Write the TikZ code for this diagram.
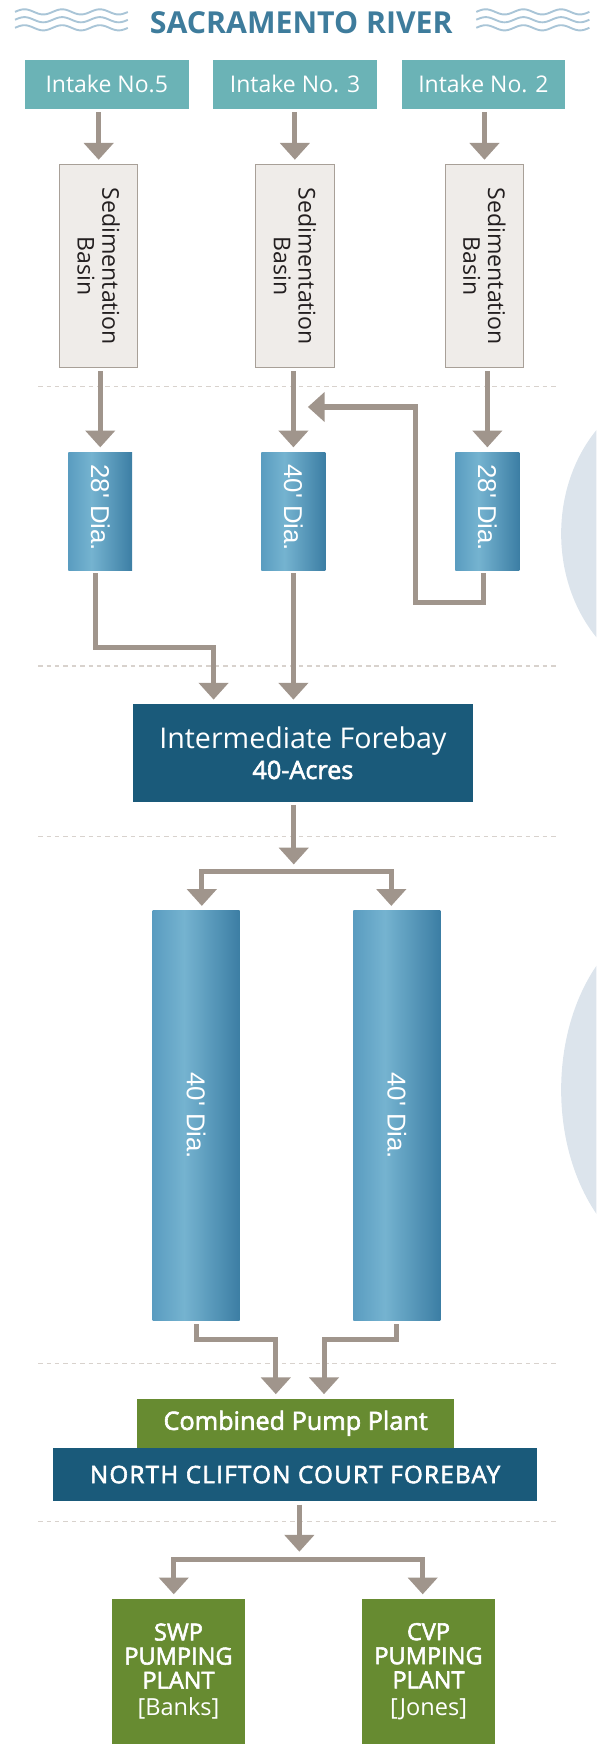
\documentclass[tikz,border=0pt]{standalone}
\usepackage{fontspec}
\setmainfont{Open Sans}
\newfontfamily\arialf{Liberation Sans}
\newfontfamily\medf[FakeBold=2.4]{Open Sans}
\newfontfamily\medspf[FakeBold=2.4,LetterSpace=5.5]{Open Sans}
\usetikzlibrary{arrows.meta}
\definecolor{titleblue}{HTML}{3E7C9C}
\definecolor{wavecol}{HTML}{A9C5D7}
\definecolor{intakecol}{HTML}{6BB3B6}
\definecolor{arrowgray}{HTML}{A0958C}
\definecolor{basinfill}{HTML}{EFECE9}
\definecolor{basinedge}{HTML}{A8A098}
\definecolor{dashcol}{HTML}{D8D2CD}
\definecolor{pipeL}{HTML}{5A9CC0}
\definecolor{pipeM}{HTML}{75B3D0}
\definecolor{pipeR}{HTML}{3C7EA4}
\definecolor{forebaycol}{HTML}{1A5A7A}
\definecolor{greencol}{HTML}{678B31}
\definecolor{ellcol}{HTML}{DCE4EC}
\definecolor{textdark}{HTML}{231F20}
\pgfdeclarehorizontalshading{pipeshade}{100bp}{color(0bp)=(pipeL); color(25bp)=(pipeL); color(43bp)=(pipeM); color(75bp)=(pipeR); color(100bp)=(pipeR)}
\tikzset{
  intake/.style={fill=intakecol, text=white, minimum width=146pt, minimum height=44pt, inner sep=0pt, anchor=north west, font=\fontsize{20.5}{24}\selectfont},
  basin/.style={fill=basinfill, draw=basinedge, line width=1pt, minimum width=70pt, minimum height=181pt, inner sep=0pt, anchor=north west},
  basinlbl/.style={rotate=-90, align=center, text=textdark, inner sep=0pt, font=\fontsize{20.6}{22}\selectfont},
  pipebox/.style={shade, shading=pipeshade, inner sep=0pt, anchor=north west},
  pipesmall/.style={pipebox, minimum width=57pt, minimum height=105.4pt},
  pipebig/.style={pipebox, minimum width=77.5pt, minimum height=366pt},
  pipelbl/.style={rotate=-90, text=white, inner sep=0pt, font=\arialf\fontsize{23}{24}\selectfont},
  darkbox/.style={fill=forebaycol, text=white, inner sep=0pt, anchor=north west, align=center},
  greenbox/.style={fill=greencol, text=white, inner sep=0pt, anchor=north west, align=center},
  conn/.style={draw=arrowgray, line width=4.5pt},
  arr/.style={conn, -{Triangle[width=26pt,length=15pt]}, shorten >=4pt, shorten <=2.5pt},
  dashline/.style={draw=dashcol, line width=1.1pt, dash pattern=on 4pt off 3.5pt},
  wave/.style={draw=wavecol, line width=1.7pt}
}
\begin{document}
\begin{tikzpicture}[x=1pt,y=-1pt]
\useasboundingbox (0,0) rectangle (532,1568);
% background ellipses
\begin{scope}
\clip (0,0) rectangle (532,1568);
\fill[ellcol] (610.5,476) ellipse [x radius=110pt, y radius=132pt];
\fill[ellcol] (610.5,972) ellipse [x radius=110pt, y radius=158pt];
\end{scope}
% waves
\foreach \yy in {10.6,17.6,24.8} {
  \draw[wave] plot[domain=13.4:114, samples=90, smooth] (\x, {\yy - 2.3*sin(10.71*(\x-13.4))});
  \draw[wave] plot[domain=424.8:525.7, samples=90, smooth] (\x, {\yy - 2.3*sin(10.71*(\x-424.8))});
}
% dashed separators
\foreach \yy in {345,594,746,1216,1357} {
  \draw[dashline] (34,\yy) -- (498,\yy);
}
% title
\node[font=\bfseries\fontsize{27}{30}\selectfont, text=titleblue, anchor=base, inner sep=0pt] (title) at (268.75,29.7) {SACRAMENTO RIVER};
% intakes
\node[intake] (in5) at (22,53) {Intake No.5};
\node[intake] (in3) at (190,53) {Intake No. 3};
\node[intake] (in2) at (358,53) {Intake No. 2};
% basins
\node[basin] (bas1) at (52.5,146.5) {};
\node[basin] (bas2) at (227.5,146.5) {};
\node[basin] (bas3) at (396.6,146.5) {};
\node[basinlbl] (bl1) at (bas1.center) {Sedimentation\\Basin};
\node[basinlbl] (bl2) at (bas2.center) {Sedimentation\\Basin};
\node[basinlbl] (bl3) at (bas3.center) {Sedimentation\\Basin};
% small pipes
\node[pipesmall] (p1) at (60.7,403) {};
\node[pipesmall] (p2) at (233,403) {};
\node[pipesmall] (p3) at (406,403) {};
\node[pipelbl] (pl1) at ([yshift=3pt]p1.center) {28' Dia.};
\node[pipelbl] (pl2) at ([yshift=3pt]p2.center) {40' Dia.};
\node[pipelbl] (pl3) at ([yshift=3pt]p3.center) {28' Dia.};
% intermediate forebay
\node[darkbox, minimum width=304pt, minimum height=87pt, font=\fontsize{25.5}{27}\selectfont] (fb) at (118,628) {Intermediate Forebay\\{\medf\fontsize{22.5}{27}\selectfont 40-Acres}};
% big pipes
\node[pipebig] (bp1) at (136,812) {};
\node[pipebig] (bp2) at (315,812) {};
\node[pipelbl] (bpl1) at (bp1.center) {40' Dia.};
\node[pipelbl] (bpl2) at (bp2.center) {40' Dia.};
% combined pump plant and forebay
\node[greenbox, minimum width=283pt, minimum height=43.5pt, font=\medf\fontsize{22.5}{24}\selectfont] (cpp) at (122,1247.5) {Combined Pump Plant};
\node[darkbox, minimum width=432pt, minimum height=48pt, font=\medspf\fontsize{21.5}{24}\selectfont] (nccf) at (47,1291) {NORTH CLIFTON COURT FOREBAY};
% pumping plants
\node[greenbox, minimum width=118pt, minimum height=129pt, font=\medf\fontsize{21}{21.5}\selectfont] (swp) at (100,1426) {SWP\\PUMPING\\PLANT\\[2.5pt]{\normalfont\fontsize{21}{21.5}\selectfont{[}Banks{]}}};
\node[greenbox, minimum width=118pt, minimum height=129pt, font=\medf\fontsize{21}{21.5}\selectfont] (cvp) at (323,1426) {CVP\\PUMPING\\PLANT\\[2.5pt]{\normalfont\fontsize{21}{21.5}\selectfont{[}Jones{]}}};
% connectors: intakes to basins
\draw[arr] (in5.south -| bas1.north) -- (bas1.north);
\draw[arr] (in3.south -| bas2.north) -- (bas2.north);
\draw[arr] (in2.south -| bas3.north) -- (bas3.north);
% basins to pipes
\draw[arr] (bas1.south -| p1.north) -- (p1.north);
\draw[arr] (bas2.south -| p2.north) -- (p2.north);
\draw[arr] (bas3.south -| p3.north) -- (p3.north);
% return loop from pipe 3
\coordinate (r1) at (370.5,537.4);
\coordinate (r2) at (274.6,363);
\draw[arr, shorten >=0pt] ([xshift=-3.5pt]p3.south) |- (r1) |- (r2);
% pipes to forebay
\coordinate (j1) at (190.5,577.5);
\draw[arr] ([xshift=-4pt]p1.south) |- (j1) -- (j1 |- fb.north);
\draw[arr] (p2.south) -- (p2.south |- fb.north);
% forebay split
\coordinate (s1) at (262,777.5);
\coordinate (s1l) at (180,777.5);
\coordinate (s1r) at (349,777.5);
\draw[arr, shorten >=6.5pt] (fb.south -| s1) -- (s1);
\draw[arr, shorten <=0pt] (s1) -- (s1l) -- (s1l |- bp1.north);
\draw[arr, shorten <=0pt] (s1) -- (s1r) -- (s1r |- bp2.north);
% big pipes to combined pump plant
\coordinate (c1) at (246,1195);
\coordinate (c2) at (289,1195);
\draw[arr] (bp1.south) |- (c1) -- (c1 |- cpp.north);
\draw[arr] (bp2.south) |- (c2) -- (c2 |- cpp.north);
% forebay to pumping plants
\coordinate (s2) at (267,1391);
\coordinate (s2l) at (155,1391);
\coordinate (s2r) at (377,1391);
\draw[arr, shorten >=7pt] (nccf.south -| s2) -- (s2);
\draw[arr, shorten <=0pt] (s2) -- (s2l) -- (s2l |- swp.north);
\draw[arr, shorten <=0pt] (s2) -- (s2r) -- (s2r |- cvp.north);
\end{tikzpicture}
\end{document}
